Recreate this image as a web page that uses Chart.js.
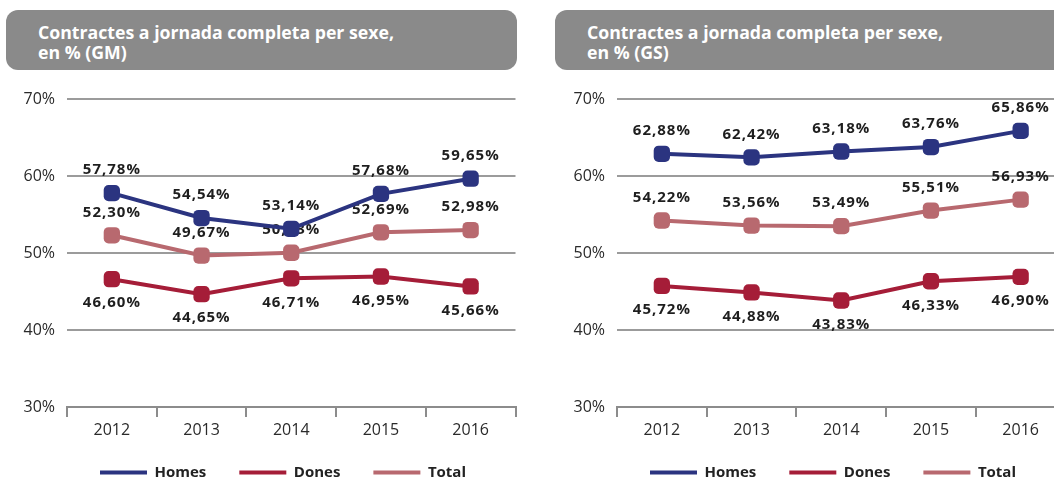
<!DOCTYPE html>
<html lang="ca">
<head>
<meta charset="utf-8">
<script src="https://cdn.jsdelivr.net/npm/chart.js@4.4.1/dist/chart.umd.min.js"></script>
<style>
  html, body { margin: 0; padding: 0; background: #fff; }
  body { width: 1054px; height: 479px; overflow: hidden; position: relative; font-family: 'Open Sans', sans-serif; }
  .cap {
    position: absolute; top: 10px; height: 60px; box-sizing: border-box;
    background: #8a8a8a; border-radius: 12px; color: #fff;
    font-weight: bold; font-size: 17.7px; line-height: 20px; padding: 12px 0 0 32px;
  }
  .panel { position: absolute; top: 76px; width: 525px; height: 425px; }
</style>
</head>
<body>
<div class="cap" style="left:6px;width:511px;">Contractes a jornada completa per sexe,<br>en % (GM)</div>
<div class="cap" style="left:555px;width:520px;">Contractes a jornada completa per sexe,<br>en % (GS)</div>
<div class="panel" style="left:0px;"><canvas id="grafic-gm"></canvas></div>
<div class="panel" style="left:550px;"><canvas id="grafic-gs"></canvas></div>
<script>
// Dades
const anys = ['2012', '2013', '2014', '2015', '2016'];
const series = ['Homes', 'Dones', 'Total'];

const homesGM = [57.78, 54.54, 53.14, 57.68, 59.65];
const donesGM = [46.60, 44.65, 46.71, 46.95, 45.66];
const totalGM = [52.30, 49.67, 50.03, 52.69, 52.98];

const homesGS = [62.88, 62.42, 63.18, 63.76, 65.86];
const donesGS = [45.72, 44.88, 43.83, 46.33, 46.90];
const totalGS = [54.22, 53.56, 53.49, 55.51, 56.93];

const colors = ['#2b3480', '#a51d38', '#b8696f'];
const posEtiqueta = ['above', 'below', 'above'];

const fmt = v => v.toFixed(2).replace('.', ',') + '%';

// Etiquetes de valor (sota els punts)
const etiquetes = {
  id: 'etiquetes',
  beforeDatasetsDraw(chart) {
    const ctx = chart.ctx;
    ctx.save();
    ctx.font = 'bold 15px "Open Sans"';
    ctx.letterSpacing = '1px';
    ctx.fillStyle = '#1e1e1e';
    ctx.textAlign = 'center';
    ctx.textBaseline = 'middle';
    chart.data.datasets.forEach((ds, i) => {
      const meta = chart.getDatasetMeta(i);
      meta.data.forEach((pt, j) => {
        const dy = posEtiqueta[i] === 'above' ? -23 : 24;
        ctx.fillText(fmt(ds.data[j]), pt.x, pt.y + dy);
      });
    });
    ctx.restore();
  }
};

// Llegenda una mica més amunt
const pujaLlegenda = {
  id: 'pujaLlegenda',
  afterLayout(chart) {
    chart.legend.top -= 11;
    chart.legend.bottom -= 11;
  }
};

Chart.defaults.font.family = "'Open Sans', sans-serif";
Chart.defaults.color = '#2a2a2a';

function crearGrafic(id, dades) {
  const ctx = document.getElementById(id).getContext('2d');
  return new Chart(ctx, {
    type: 'line',
    data: {
      labels: anys,
      datasets: dades.map((d, i) => ({
        label: series[i],
        data: d,
        borderColor: colors[i],
        backgroundColor: colors[i],
        borderWidth: 4,
        pointStyle: 'rectRounded',
        pointRadius: 9.5,
        pointHoverRadius: 9.5,
        pointBorderWidth: 0,
        tension: 0
      }))
    },
    options: {
      responsive: true,
      maintainAspectRatio: false,
      animation: false,
      events: [],
      layout: { padding: { top: 23, left: 12, right: 9, bottom: 0 } },
      scales: {
        x: {
          offset: true,
          grid: { display: true, drawOnChartArea: false, drawTicks: true, tickLength: 10, offset: true, color: '#8c8c8c', lineWidth: 2 },
          border: { display: true, color: '#8c8c8c', width: 2 },
          ticks: { font: { size: 16 }, padding: 4, color: '#2a2a2a' },
          afterFit: s => { s.height = 36; }
        },
        y: {
          min: 30,
          max: 70,
          ticks: { stepSize: 10, font: { size: 16 }, padding: 12, color: '#2a2a2a', callback: v => v + '%' },
          grid: { drawTicks: false, color: '#9b9b9b', lineWidth: 2 },
          border: { display: false },
          afterFit: s => { s.width = 55; }
        }
      },
      plugins: {
        legend: {
          position: 'bottom',
          fullSize: false,
          align: 'start',
          labels: {
            boxWidth: 47,
            boxHeight: 4,
            padding: 33,
            color: '#222',
            font: { size: 15, weight: 'bold' },
            generateLabels: chart => Chart.defaults.plugins.legend.labels.generateLabels(chart)
              .map(l => ({ ...l, lineWidth: 0 }))
          }
        },
        tooltip: { enabled: false }
      }
    },
    plugins: [etiquetes, pujaLlegenda]
  });
}

crearGrafic('grafic-gm', [homesGM, donesGM, totalGM]);
crearGrafic('grafic-gs', [homesGS, donesGS, totalGS]);
</script>
</body>
</html>
